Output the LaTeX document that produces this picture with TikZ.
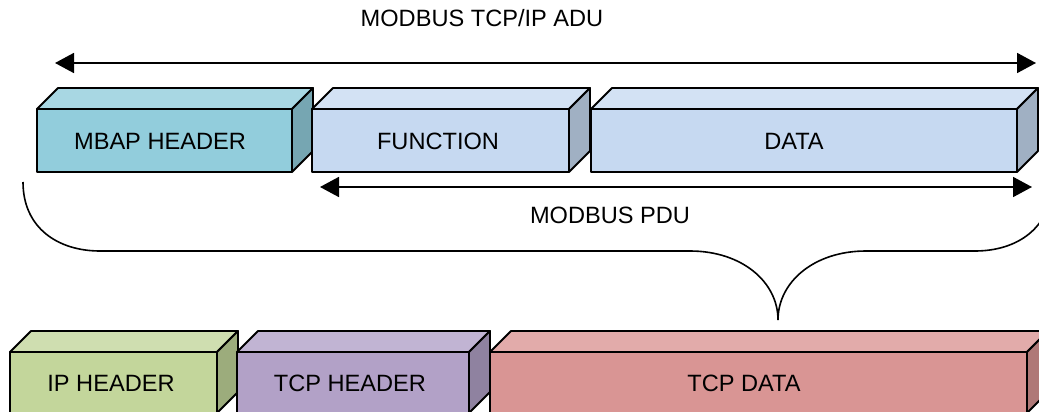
\documentclass[tikz,border=0pt]{standalone}
\usepackage{fontspec}
\setmainfont{Liberation Sans}
\usepackage{xcolor}
\usepackage{tikz}
\usetikzlibrary{arrows.meta}
\definecolor{mbapF}{HTML}{92CDDC}
\definecolor{mbapT}{HTML}{A8D7E3}
\definecolor{mbapS}{HTML}{76A6B2}
\definecolor{pduF}{HTML}{C6D9F1}
\definecolor{pduT}{HTML}{D3E2F4}
\definecolor{pduS}{HTML}{A0B0C3}
\definecolor{ipF}{HTML}{C3D69B}
\definecolor{ipT}{HTML}{CFDEB0}
\definecolor{ipS}{HTML}{9CAC7C}
\definecolor{tcpF}{HTML}{B2A1C7}
\definecolor{tcpT}{HTML}{C1B4D3}
\definecolor{tcpS}{HTML}{8F82A0}
\definecolor{dataF}{HTML}{D99594}
\definecolor{dataT}{HTML}{E2ABAA}
\definecolor{dataS}{HTML}{AF7877}
\tikzset{
  lab/.style={text=black, font=\fontsize{23.6}{28}\selectfont, anchor=base, inner sep=0pt},
  face/.style={draw=black, line width=1.8pt, line join=round},
  dimArrow/.style={line width=1.8pt, {Triangle[length=19pt,width=20pt]}-{Triangle[length=19pt,width=20pt]}},
  braceLine/.style={line width=1.6pt}
}

\begin{document}
\begin{tikzpicture}[x=1pt, y=-1pt]
  \useasboundingbox (0,0) rectangle (1039,412);
  \clip (0,0) rectangle (1039,412);

  % MODBUS TCP/IP ADU
  \filldraw[face, fill=mbapT] (37,109) -- ++(21,-21) -- ++(255,0) -- ++(-21,21) -- cycle;
  \filldraw[face, fill=mbapS] (292,109) -- ++(21,-21) -- ++(0,63) -- ++(-21,21) -- cycle;
  \filldraw[face, fill=mbapF] (37,109) rectangle (292,172);
  \filldraw[face, fill=pduT] (312,109) -- ++(21,-21) -- ++(257,0) -- ++(-21,21) -- cycle;
  \filldraw[face, fill=pduS] (569,109) -- ++(21,-21) -- ++(0,63) -- ++(-21,21) -- cycle;
  \filldraw[face, fill=pduF] (312,109) rectangle (569,172);
  \filldraw[face, fill=pduT] (591,109) -- ++(21,-21) -- ++(426,0) -- ++(-21,21) -- cycle;
  \filldraw[face, fill=pduS] (1017,109) -- ++(21,-21) -- ++(0,63) -- ++(-21,21) -- cycle;
  \filldraw[face, fill=pduF] (591,109) rectangle (1017,172);
  \node[lab] (mbap) at (160,149.3) {MBAP HEADER};
  \node[lab] (func) at (438,149.3) {FUNCTION};
  \node[lab] (data) at (794,149.3) {DATA};

  \coordinate (aduL) at (55,63);
  \coordinate (aduR) at (1036,63);
  \draw[dimArrow] (aduL) -- (aduR);
  \node[lab] (adu) at (482,26.7) {MODBUS TCP/IP ADU};

  \coordinate (pduL) at (320,187);
  \coordinate (pduR) at (1032,187);
  \draw[dimArrow] (pduL) -- (pduR);
  \node[lab] (pdu) at (610,223.3) {MODBUS PDU};

  % brace
  \draw[braceLine] (23,182) .. controls (23,228) and (58,251) .. (100,251)
    -- (690,251) .. controls (742,251) and (778,282) .. (778,320)
    .. controls (778,282) and (814,251) .. (866,251)
    -- (975,251) .. controls (1017,251) and (1052,228) .. (1052,182);

  % TCP segment
  \filldraw[face, fill=ipT] (10,352) -- ++(21,-21) -- ++(207,0) -- ++(-21,21) -- cycle;
  \filldraw[face, fill=ipS] (217,352) -- ++(21,-21) -- ++(0,61) -- ++(-21,21) -- cycle;
  \filldraw[face, fill=ipF] (10,352) rectangle (217,413);
  \filldraw[face, fill=tcpT] (237,352) -- ++(21,-21) -- ++(232,0) -- ++(-21,21) -- cycle;
  \filldraw[face, fill=tcpS] (469,352) -- ++(21,-21) -- ++(0,61) -- ++(-21,21) -- cycle;
  \filldraw[face, fill=tcpF] (237,352) rectangle (469,413);
  \filldraw[face, fill=dataT] (490,352) -- ++(21,-21) -- ++(537,0) -- ++(-21,21) -- cycle;
  \filldraw[face, fill=dataS] (1027,352) -- ++(21,-21) -- ++(0,61) -- ++(-21,21) -- cycle;
  \filldraw[face, fill=dataF] (490,352) rectangle (1027,413);
  \node[lab] (ip) at (111,391) {IP HEADER};
  \node[lab] (tcp) at (350,391) {TCP HEADER};
  \node[lab] (tcpdata) at (744,391) {TCP DATA};
\end{tikzpicture}
\end{document}
